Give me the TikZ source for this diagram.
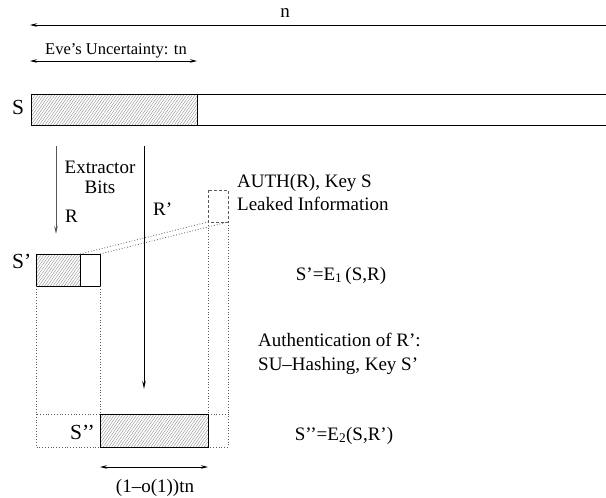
\documentclass[tikz,border=0pt]{standalone}
\usepackage{fontspec}
\setmainfont{Liberation Serif}
\usetikzlibrary{arrows.meta,patterns.meta}
\definecolor{ink}{HTML}{000000}
\definecolor{hatch}{HTML}{8A8A8A}
\definecolor{greyline}{HTML}{555555}
\definecolor{dots}{HTML}{5A5A5A}
\newcommand{\txt}{\fontsize{19}{22}\selectfont}
\newcommand{\evetxt}{\fontsize{16.5}{20}\selectfont}
\newcommand{\setlbl}{\fontsize{21.5}{24}\selectfont}

\tikzset{
  hatched/.style={pattern={Lines[angle=55,distance=2.3pt,line width=0.4pt]},pattern color=hatch},
  dimarrow/.style={ink,line width=0.8pt,{Stealth[length=7pt,width=3.5pt]}-{Stealth[length=7pt,width=3.5pt]}},
  downarrow/.style={line width=0.9pt,-{Stealth[length=8pt,width=3.5pt]}},
  lbl/.style={anchor=base,inner sep=0,text=ink},
  dotline/.style={dots,line width=0.8pt,dash pattern=on 0.8pt off 2pt}
}

\begin{document}
\begin{tikzpicture}[x=1pt,y=-1pt,font=\txt]
\useasboundingbox (0,0) rectangle (606,498);
% total length n
\node[lbl] (nlab) at (285,17) {n};
\coordinate (nR) at (606,25);
\coordinate (nL) at (30,25);
\draw[ink,line width=0.8pt,-{Stealth[length=7pt,width=3.5pt]}] (nR) -- (nL);
% uncertainty tn
\node[lbl,anchor=base west,font=\evetxt] (eve) at (45,54) {Eve's Uncertainty: tn};
\coordinate (eveL) at (30,61);
\coordinate (eveR) at (197,61);
\draw[dimarrow] (eveL) -- (eveR);
% string S
\node[lbl,font=\setlbl] (S) at (18,114) {S};
\fill[hatched] (31,94) rectangle (197,125);
\draw[ink,line width=1pt] (606,94) -- (31,94) -- (31,125) -- (606,125);
\draw[ink,line width=1pt] (197,94) -- (197,125);
% extractor bits R
\coordinate (rTop) at (56,146);
\coordinate (rBot) at (56,234);
\draw[downarrow,greyline] (rTop) -- (rBot);
\node[lbl] (extr) at (100,173) {Extractor};
\node[lbl] (bits) at (100,193) {Bits};
\node[lbl,anchor=base west] (rlab) at (65,222) {R};
% R'
\coordinate (rpTop) at (144,146);
\coordinate (rpBot) at (144,389);
\draw[downarrow,ink] (rpTop) -- (rpBot);
\node[lbl,anchor=base west] (rplab) at (153,215) {R'};
% leaked part
\draw[dots,line width=0.8pt,dash pattern=on 3pt off 2pt] (208,190) rectangle (228,222);
\node[lbl,anchor=base west] (auth) at (237,187) {AUTH(R), Key S};
\node[lbl,anchor=base west] (leak) at (237,210) {Leaked Information};
% S'
\node[lbl,font=\setlbl,anchor=base west] (Sp) at (12,268) {S'};
\fill[hatched] (36,254) rectangle (80,286);
\draw[ink,line width=1pt] (36,254) rectangle (100,286);
\draw[ink,line width=1pt] (80,254) -- (80,286);
\draw[dotline] (80,254) -- (208,222);
\draw[dotline] (100,254) -- (228,222);
\node[lbl] (e1) at (341,280) {S'=E\textsubscript{1}\,(S,R)};
% guide lines
\draw[dotline] (36,286) -- (36,414);
\draw[dotline] (100,286) -- (100,414);
\draw[dotline] (208,222) -- (208,414);
\draw[dotline] (228,222) -- (228,414);
\draw[dotline] (36,414) rectangle (228,447);
% authentication
\node[lbl,anchor=base west] (authr) at (258,346) {Authentication of R':};
\node[lbl,anchor=base west] (hash) at (258,370) {SU--Hashing, Key S'};
% S''
\node[lbl,font=\setlbl,anchor=base east] (Spp) at (95,439) {S'{}'};
\fill[hatched] (100,414) rectangle (208,447);
\draw[ink,line width=1pt] (100,414) rectangle (208,447);
\node[lbl] (e2) at (344,440) {S'{}'=E\textsubscript{2}(S,R')};
% final length
\coordinate (finL) at (100,467);
\coordinate (finR) at (208,467);
\draw[dimarrow] (finL) -- (finR);
\node[lbl] (finlab) at (155,492) {(1--o(1))tn};
\end{tikzpicture}
\end{document}
